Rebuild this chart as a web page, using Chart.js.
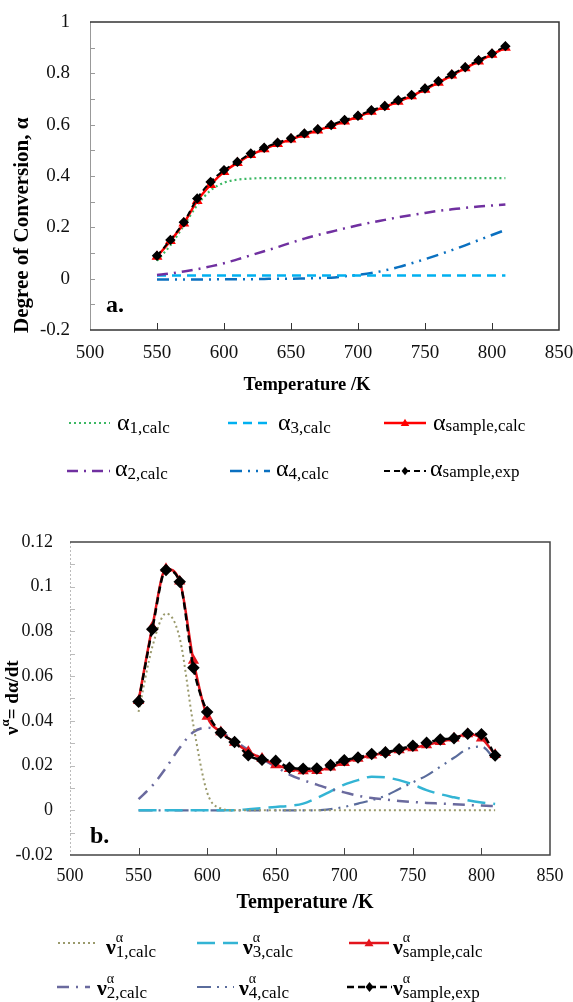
<!DOCTYPE html>
<html>
<head>
<meta charset="utf-8">
<script src="https://cdn.jsdelivr.net/npm/chart.js@4.4.1/dist/chart.umd.min.js"></script>
<style>
  body { margin: 0; background: #fff; width: 573px; height: 1002px; overflow: hidden; position: relative; }
  .box { position: absolute; left: 0; width: 573px; }
  #boxA { top: 0; height: 500px; }
  #boxB { top: 500px; height: 502px; }
</style>
</head>
<body>
<div class="box" id="boxA"><canvas id="chartA"></canvas></div>
<div class="box" id="boxB"><canvas id="chartB"></canvas></div>
<script>
//// Data

// Temperature /K (shared by both panels)
const temps = [550, 560, 570, 580, 590, 600, 610, 620, 630, 640, 650, 660, 670, 680,
    690, 700, 710, 720, 730, 740, 750, 760, 770, 780, 790, 800, 810];

// panel a: degree of conversion
const alphaExp = [0.089, 0.151, 0.22, 0.312, 0.377, 0.423, 0.455, 0.488, 0.51, 0.53, 0.547, 0.566, 0.582, 0.599,
    0.618, 0.635, 0.656, 0.673, 0.695, 0.716, 0.741, 0.769, 0.796, 0.824, 0.851, 0.877, 0.906];
const alphaCalc = [0.086, 0.147, 0.216, 0.303, 0.366, 0.416, 0.451, 0.482, 0.505, 0.525, 0.543, 0.561, 0.578, 0.595,
    0.613, 0.631, 0.651, 0.669, 0.69, 0.711, 0.737, 0.764, 0.792, 0.82, 0.847, 0.873, 0.9];
const alpha1 = [0.07, 0.13, 0.207, 0.286, 0.344, 0.374, 0.386, 0.39, 0.392, 0.392, 0.392, 0.392, 0.392, 0.392,
    0.392, 0.392, 0.392, 0.392, 0.392, 0.392, 0.392, 0.392, 0.392, 0.392, 0.392, 0.392, 0.392];
const alpha2 = [0.014, 0.02, 0.028, 0.037, 0.048, 0.06, 0.075, 0.091, 0.107, 0.123, 0.14, 0.156, 0.17, 0.183,
    0.196, 0.208, 0.219, 0.229, 0.239, 0.248, 0.256, 0.264, 0.27, 0.276, 0.281, 0.285, 0.289];
const alpha3 = [0.012, 0.012, 0.012, 0.012, 0.012, 0.012, 0.012, 0.012, 0.012, 0.012, 0.012, 0.012, 0.012, 0.012,
    0.012, 0.012, 0.012, 0.012, 0.012, 0.012, 0.012, 0.012, 0.012, 0.012, 0.012, 0.012, 0.012];
const alpha4 = [-0.003, -0.003, -0.003, -0.003, -0.003, -0.002, -0.002, -0.002, -0.001, 0, 0, 0.001, 0.002, 0.004,
    0.009, 0.015, 0.022, 0.032, 0.045, 0.06, 0.076, 0.093, 0.111, 0.13, 0.15, 0.17, 0.19];

// panel b: rate dα/dt
const nuExp = [0.0486, 0.081, 0.1075, 0.1022, 0.0638, 0.044, 0.0347, 0.0305, 0.0246, 0.0226, 0.0221, 0.019, 0.0186, 0.0187,
    0.0202, 0.0224, 0.0236, 0.0252, 0.0259, 0.0273, 0.0289, 0.0302, 0.0317, 0.0322, 0.0342, 0.034, 0.0245];
const nuCalc = [0.049, 0.082, 0.108, 0.1025, 0.067, 0.042, 0.035, 0.0303, 0.0262, 0.0232, 0.0203, 0.0186, 0.0176, 0.0177,
    0.0193, 0.0213, 0.0232, 0.0246, 0.0257, 0.027, 0.0279, 0.0292, 0.0306, 0.0322, 0.0341, 0.0322, 0.0248];
const nu1 = [0.044, 0.073, 0.088, 0.077, 0.038, 0.008, 0.0008, 0, 0, 0, 0, 0, 0, 0,
    0, 0, 0, 0, 0, 0, 0, 0, 0, 0, 0, 0, 0];
const nu2 = [0.005, 0.011, 0.019, 0.028, 0.035, 0.037, 0.035, 0.031, 0.027, 0.023, 0.0195, 0.016, 0.0135, 0.0115,
    0.0095, 0.008, 0.0065, 0.0055, 0.0048, 0.0042, 0.0037, 0.0033, 0.003, 0.0027, 0.0024, 0.0021, 0.0019];
const nu3 = [0, 0, 0, 0, 0, 0, 0, 0, 0.0005, 0.001, 0.0015, 0.002, 0.003, 0.0055,
    0.0085, 0.0115, 0.0135, 0.015, 0.0147, 0.0135, 0.0115, 0.009, 0.0072, 0.0058, 0.0045, 0.0035, 0.0028];
const nu4 = [0, 0, 0, 0, 0, 0, 0, 0, 0, 0, 0, 0, 0, 0,
    0.0005, 0.0015, 0.003, 0.0045, 0.0065, 0.0095, 0.0125, 0.0155, 0.0195, 0.0235, 0.0275, 0.0285, 0.0225];

// axis ticks
const xTicks = { min: 500, max: 850, step: 50 };
const yTicksA = { min: -0.2, max: 1, step: 0.2, minor: 0.1 };
const yTicksB = { min: -0.02, max: 0.12, step: 0.02, minor: 0.01 };

//// Helpers
const serif = (size, bold) => (bold ? 'bold ' : '') + size + 'px "Liberation Serif", "Times New Roman", serif';
const pts = arr => temps.map((t, i) => ({ x: t, y: arr[i] }));

function line(ds, data, color, width, dash, order) {
    return {
        data: pts(data), borderColor: color, backgroundColor: color, borderWidth: width,
        borderDash: dash, pointRadius: 0, cubicInterpolationMode: 'monotone', fill: false, order: order
    };
}

function marker(ctx, style, x, y, r, color) {
    ctx.fillStyle = color;
    ctx.beginPath();
    if (style === 'triangle') {
        ctx.moveTo(x, y - r); ctx.lineTo(x + r, y + r * 0.7); ctx.lineTo(x - r, y + r * 0.7);
    } else {
        ctx.moveTo(x, y - r); ctx.lineTo(x + r * 0.8, y); ctx.lineTo(x, y + r); ctx.lineTo(x - r * 0.8, y);
    }
    ctx.closePath();
    ctx.fill();
}

function drawParts(ctx, x, y, parts) {
    let cx = x;
    parts.forEach(p => {
        ctx.font = serif(p.s, p.b);
        ctx.fillText(p.t, cx, y + (p.dy || 0));
        if (!p.stack) cx += ctx.measureText(p.t).width;
    });
}

// draws frame, inner ticks, titles and the legend
function decor(cfg) {
    return {
        id: 'decor',
        afterDraw(chart) {
            const ctx = chart.ctx, a = chart.chartArea, xs = chart.scales.x, ys = chart.scales.y;
            ctx.save();
            // left axis
            ctx.strokeStyle = cfg.axisColor; ctx.lineWidth = 1; ctx.setLineDash(cfg.axisDash || []);
            ctx.beginPath(); ctx.moveTo(a.left + 0.5, a.top); ctx.lineTo(a.left + 0.5, a.bottom); ctx.stroke();
            ctx.setLineDash([]);
            // box
            ctx.strokeStyle = cfg.frameColor; ctx.lineWidth = 1.5;
            ctx.beginPath();
            ctx.moveTo(a.left, a.top); ctx.lineTo(a.right, a.top); ctx.lineTo(a.right, a.bottom); ctx.lineTo(a.left, a.bottom);
            ctx.stroke();
            // minor y ticks
            ctx.lineWidth = 1; ctx.strokeStyle = cfg.tickColor;
            const ny = Math.round((cfg.yt.max - cfg.yt.min) / cfg.yt.minor);
            for (let i = 1; i < ny; i++) {
                const py = Math.round(ys.getPixelForValue(cfg.yt.min + i * cfg.yt.minor)) + 0.5;
                ctx.beginPath(); ctx.moveTo(a.left, py); ctx.lineTo(a.left + 5, py); ctx.stroke();
            }
            // x ticks
            ctx.strokeStyle = cfg.frameColor;
            for (let v = xTicks.min + xTicks.step; v < xTicks.max; v += xTicks.step) {
                const px = Math.round(xs.getPixelForValue(v)) + 0.5;
                ctx.beginPath(); ctx.moveTo(px, a.bottom); ctx.lineTo(px, a.bottom - 7); ctx.stroke();
            }
            ctx.fillStyle = '#000';
            // panel tag
            ctx.font = serif(24, true); ctx.textAlign = 'left'; ctx.textBaseline = 'alphabetic';
            ctx.fillText(cfg.tag.t, cfg.tag.x, cfg.tag.y);
            // x title
            ctx.font = serif(cfg.xTitle.s, true); ctx.textAlign = 'center'; ctx.textBaseline = 'middle';
            ctx.fillText('Temperature /K', cfg.xTitle.x, cfg.xTitle.y);
            // y title
            ctx.save();
            ctx.translate(cfg.yTitle.x, cfg.yTitle.y); ctx.rotate(-Math.PI / 2);
            ctx.textAlign = 'left'; ctx.textBaseline = 'alphabetic';
            drawParts(ctx, 0, 0, cfg.yTitle.parts);
            ctx.restore();
            // legend
            cfg.legend.forEach(it => {
                const ds = chart.data.datasets[it.ds];
                ctx.strokeStyle = ds.borderColor; ctx.lineWidth = ds.borderWidth;
                ctx.setLineDash(ds.borderDash || []);
                ctx.beginPath(); ctx.moveTo(it.x1, it.y); ctx.lineTo(it.x2, it.y); ctx.stroke();
                ctx.setLineDash([]);
                if (ds.pointRadius > 0) marker(ctx, ds.pointStyle, (it.x1 + it.x2) / 2, it.y, ds.pointRadius + 0.5, ds.pointBackgroundColor);
                ctx.fillStyle = '#000'; ctx.textAlign = 'left'; ctx.textBaseline = 'alphabetic';
                drawParts(ctx, it.tx, it.ty, it.parts);
            });
            ctx.restore();
        }
    };
}

function scales(yt, yWidth, xHeight, tickSize, yPad, xPad) {
    const tickFont = { family: '"Liberation Serif", serif', size: tickSize };
    return {
        x: {
            type: 'linear', min: xTicks.min, max: xTicks.max,
            afterFit: s => { s.height = xHeight; s.paddingLeft = 0; s.paddingRight = 0; },
            ticks: { stepSize: xTicks.step, autoSkip: false, maxRotation: 0, color: '#111', font: tickFont, padding: xPad },
            grid: { display: false, drawTicks: false }, border: { display: false }
        },
        y: {
            min: yt.min, max: yt.max,
            afterFit: s => { s.width = yWidth; s.paddingTop = 0; s.paddingBottom = 0; },
            ticks: {
                stepSize: yt.step, color: '#111', font: tickFont, padding: yPad,
                callback: v => String(+(+v).toFixed(2))
            },
            grid: { display: false, drawTicks: false }, border: { display: false }
        }
    };
}

const a = sub => [{ t: 'α', s: 24 }, { t: sub, s: 17, dy: 3 }];
const nu = sub => [{ t: 'ν', s: 22, b: true }, { t: 'α', s: 14, dy: -12, stack: true }, { t: sub, s: 17, dy: 3 }];

//// Panel a
const dsA = [
    Object.assign(line('exp', alphaExp, '#000', 2, [6, 4], 0), { pointRadius: 3.8, pointStyle: 'rectRot', pointBackgroundColor: '#000', pointBorderColor: '#000' }),
    Object.assign(line('calc', alphaCalc, '#ff0000', 2.5, [], 1), { pointRadius: 3.8, pointStyle: 'triangle', pointBackgroundColor: '#ff0000', pointBorderColor: '#ff0000' }),
    line('a1', alpha1, '#3cb864', 2.2, [2, 3], 2),
    line('a2', alpha2, '#7030a0', 2.5, [11, 6, 2, 6], 3),
    line('a3', alpha3, '#00b0f0', 2.5, [9, 6], 4),
    line('a4', alpha4, '#0a70c0', 2.5, [12, 6, 2, 6, 2, 6], 5)
];

new Chart(document.getElementById('chartA'), {
    type: 'line',
    data: { datasets: dsA },
    options: {
        responsive: true, maintainAspectRatio: false, animation: false, devicePixelRatio: 1,
        layout: { padding: { left: 0, top: 22, right: 14, bottom: 130 } },
        plugins: { legend: { display: false }, tooltip: { enabled: false } },
        scales: scales(yTicksA, 90, 40, 19, 20, 12)
    },
    plugins: [decor({
        yt: yTicksA, axisColor: '#999', frameColor: '#333', tickColor: '#999',
        tag: { t: 'a.', x: 106, y: 312 },
        xTitle: { s: 18.5, x: 307, y: 385 },
        yTitle: { x: 28, y: 333, parts: [{ t: 'Degree of Conversion, α', s: 21, b: true }] },
        legend: [
            { ds: 2, x1: 69, x2: 110, y: 423, tx: 117, ty: 430, parts: a('1,calc') },
            { ds: 4, x1: 228, x2: 272, y: 423, tx: 278, ty: 430, parts: a('3,calc') },
            { ds: 1, x1: 384, x2: 426, y: 423, tx: 433, ty: 430, parts: [{ t: 'α', s: 24 }, { t: 'sample,calc', s: 17, dy: 1 }] },
            { ds: 3, x1: 67, x2: 110, y: 471, tx: 115, ty: 476, parts: a('2,calc') },
            { ds: 5, x1: 230, x2: 270, y: 471, tx: 276, ty: 476, parts: a('4,calc') },
            { ds: 0, x1: 384, x2: 426, y: 471, tx: 430, ty: 476, parts: [{ t: 'α', s: 24 }, { t: 'sample,exp', s: 17, dy: 1 }] }
        ]
    })]
});

//// Panel b
const dsB = [
    Object.assign(line('exp', nuExp, '#000', 2.5, [7, 4], 0), { pointRadius: 4.5, pointStyle: 'rectRot', pointBackgroundColor: '#000', pointBorderColor: '#000' }),
    Object.assign(line('calc', nuCalc, '#e3141c', 2.5, [], 1), { pointRadius: 4, pointStyle: 'triangle', pointBackgroundColor: '#e3141c', pointBorderColor: '#e3141c' }),
    line('n1', nu1, '#9a9a6c', 2, [2, 3], 2),
    line('n2', nu2, '#6a6a9e', 2.5, [12, 7, 2, 7], 3),
    line('n3', nu3, '#33b4d4', 2.5, [18, 8], 4),
    line('n4', nu4, '#5a6c9c', 2.2, [14, 6, 2, 6, 2, 6], 5)
];

new Chart(document.getElementById('chartB'), {
    type: 'line',
    data: { datasets: dsB },
    options: {
        responsive: true, maintainAspectRatio: false, animation: false, devicePixelRatio: 1,
        layout: { padding: { left: 0, top: 42, right: 23, bottom: 107 } },
        plugins: { legend: { display: false }, tooltip: { enabled: false } },
        scales: scales(yTicksB, 70, 40, 18, 17, 10)
    },
    plugins: [decor({
        yt: yTicksB, axisColor: '#bbb', axisDash: [2, 2], frameColor: '#444', tickColor: '#bbb',
        tag: { t: 'b.', x: 90, y: 343 },
        xTitle: { s: 20, x: 305, y: 403 },
        yTitle: { x: 18, y: 235, parts: [{ t: 'ν', s: 19, b: true }, { t: 'α', s: 13, b: true, dy: -9 }, { t: '= dα/dt', s: 19, b: true }] },
        legend: [
            { ds: 2, x1: 58, x2: 97, y: 443, tx: 106, ty: 454, parts: nu('1,calc') },
            { ds: 4, x1: 197, x2: 238, y: 443, tx: 243, ty: 454, parts: nu('3,calc') },
            { ds: 1, x1: 349, x2: 389, y: 443, tx: 393, ty: 454, parts: nu('sample,calc') },
            { ds: 3, x1: 57, x2: 90, y: 487, tx: 97, ty: 495, parts: nu('2,calc') },
            { ds: 5, x1: 197, x2: 234, y: 487, tx: 239, ty: 495, parts: nu('4,calc') },
            { ds: 0, x1: 347, x2: 392, y: 487, tx: 393, ty: 495, parts: nu('sample,exp') }
        ]
    })]
});
</script>
</body>
</html>
